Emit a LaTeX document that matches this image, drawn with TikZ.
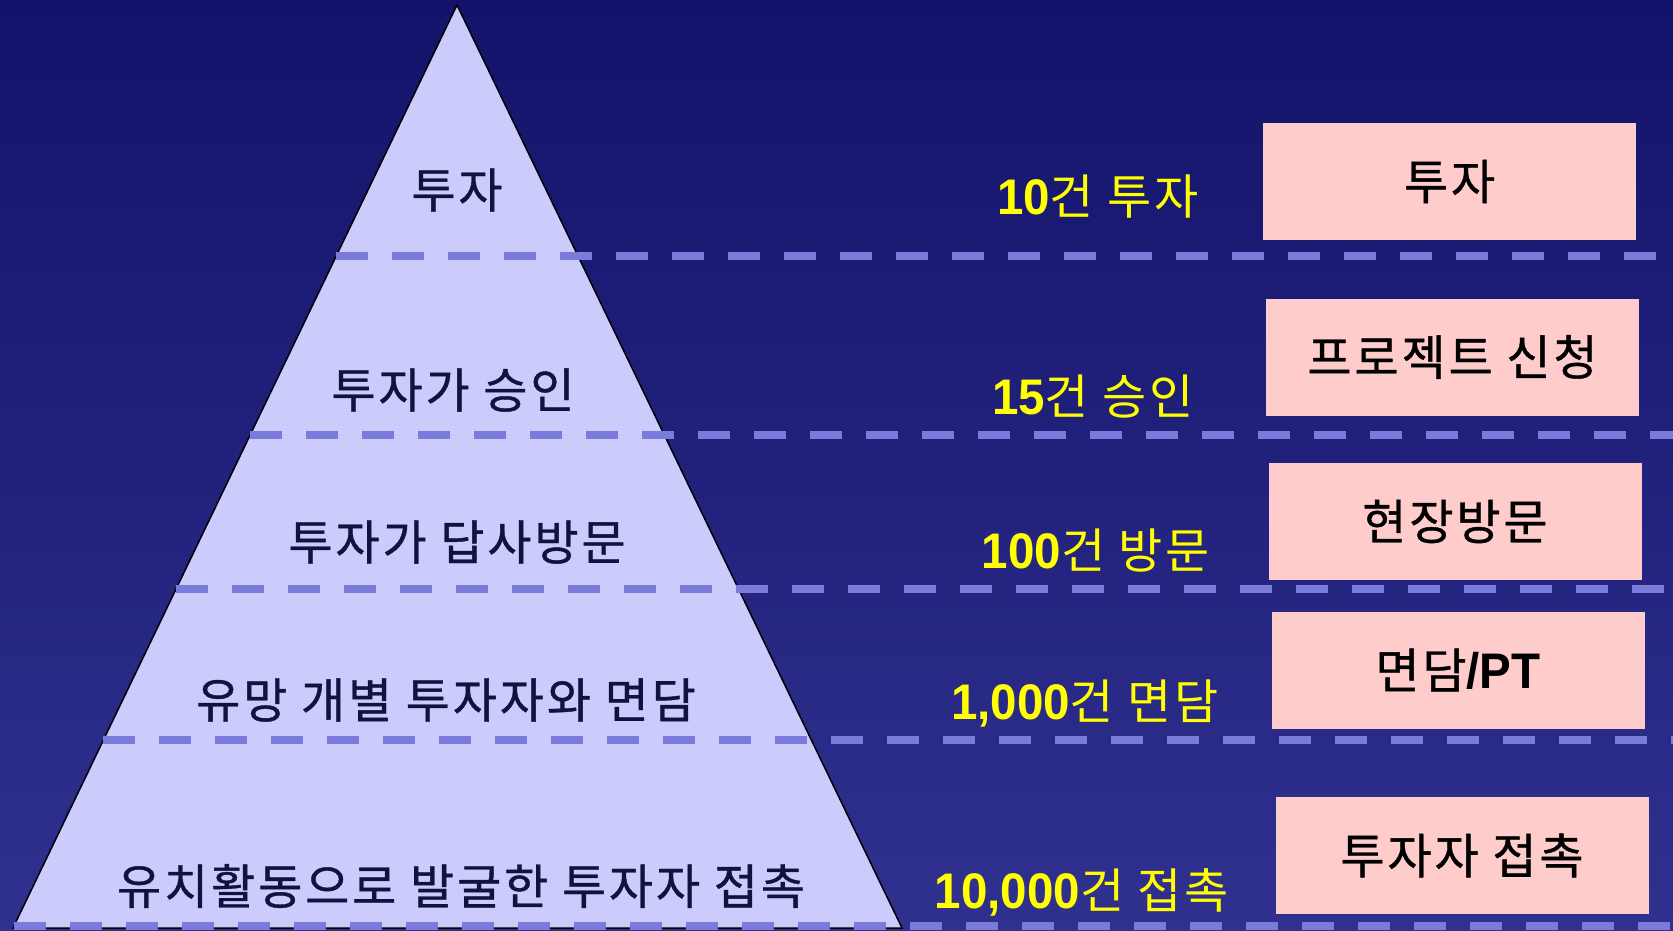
\documentclass[tikz,border=0pt]{standalone}
\usepackage{fontspec}
\setmainfont{Liberation Sans}
\newfontfamily\kr[LetterSpace=6]{Noto Sans CJK KR}
\newfontfamily\krb[LetterSpace=6,FakeBold=0.8]{Noto Sans CJK KR}
\usetikzlibrary{calc}
\definecolor{bgtop}{HTML}{13136B}
\definecolor{bgbot}{HTML}{30308F}
\definecolor{pyr}{HTML}{CCCCFC}
\definecolor{dashc}{HTML}{7B7BDC}
\definecolor{pinkbox}{HTML}{FFCCCC}
\definecolor{pyrtext}{HTML}{12123E}
\definecolor{yel}{HTML}{FFFF00}
\tikzset{
  pyrlabel/.style={text=pyrtext, font=\krb\fontsize{48}{52}\selectfont, inner sep=0pt},
  countlabel/.style={text=yel, font=\kr\fontsize{48}{52}\selectfont, inner sep=0pt},
  stagebox/.style={fill=pinkbox, draw=none, minimum width=373pt, minimum height=117pt, inner sep=0pt, font=\krb\fontsize{48}{52}\selectfont, text=black},
  levelline/.style={draw=dashc, line width=8pt, dash pattern=on 32pt off 24pt}
}
\newcommand{\bd}[1]{\scalebox{0.95}[1]{\rmfamily\bfseries\fontsize{50}{52}\selectfont #1}}
\begin{document}
\begin{tikzpicture}[x=1pt,y=-1pt]
\useasboundingbox (0,0) rectangle (1673,931);
\shade[top color=bgtop, bottom color=bgbot] (0,0) rectangle (1673,931);
% pyramid
\coordinate (apex) at (457,5);
\coordinate (bl) at (13,928);
\coordinate (br) at (902,928);
\draw[fill=pyr, draw=black, line width=1.5pt, line join=miter] (apex) -- (bl) -- (br) -- cycle;
% level lines
\coordinate (l1) at ($(apex)!0.2719!(bl)$);
\coordinate (l2) at ($(apex)!0.4659!(bl)$);
\coordinate (l3) at ($(apex)!0.6327!(bl)$);
\coordinate (l4) at ($(apex)!0.7963!(bl)$);
\coordinate (l5) at ($(apex)!0.9978!(bl)$);
\coordinate (r1) at (1673,256);
\coordinate (r2) at (1673,435);
\coordinate (r3) at (1673,589);
\coordinate (r4) at (1673,740);
\coordinate (r5) at (1673,926);
\foreach \i in {1,...,5} {\draw[levelline] (l\i) -- (r\i |- l\i);}
% pyramid labels
\node[pyrlabel] (p1) at (457,190) {투자};
\node[pyrlabel] (p2) at (453,390) {투자가 승인};
\node[pyrlabel] (p3) at (457,542) {투자가 답사방문};
\node[pyrlabel] (p4) at (446,700) {유망 개별 투자자와 면담};
\node[pyrlabel] (p5) at (461,886) {유치활동으로 발굴한 투자자 접촉};
% counts
\node[countlabel] (c1) at (1098,197) {\bd{10}건 투자};
\node[countlabel] (c2) at (1093,397) {\bd{15}건 승인};
\node[countlabel] (c3) at (1096,550) {\bd{100}건 방문};
\node[countlabel] (c4) at (1085,704) {\bd{1,000}건 면담};
\node[countlabel] (c5) at (1082,892) {\bd{10,000}건 접촉};
% stage boxes
\node[stagebox] (s1) at (1449.5,181.5) {투자};
\node[stagebox] (s2) at (1452.5,357) {프로젝트 신청};
\node[stagebox] (s3) at (1455,521.5) {현장방문};
\node[stagebox] (s4) at (1458,670) {면담\bd{/PT}};
\node[stagebox] (s5) at (1462,855.5) {투자자 접촉};
\end{tikzpicture}
\end{document}
